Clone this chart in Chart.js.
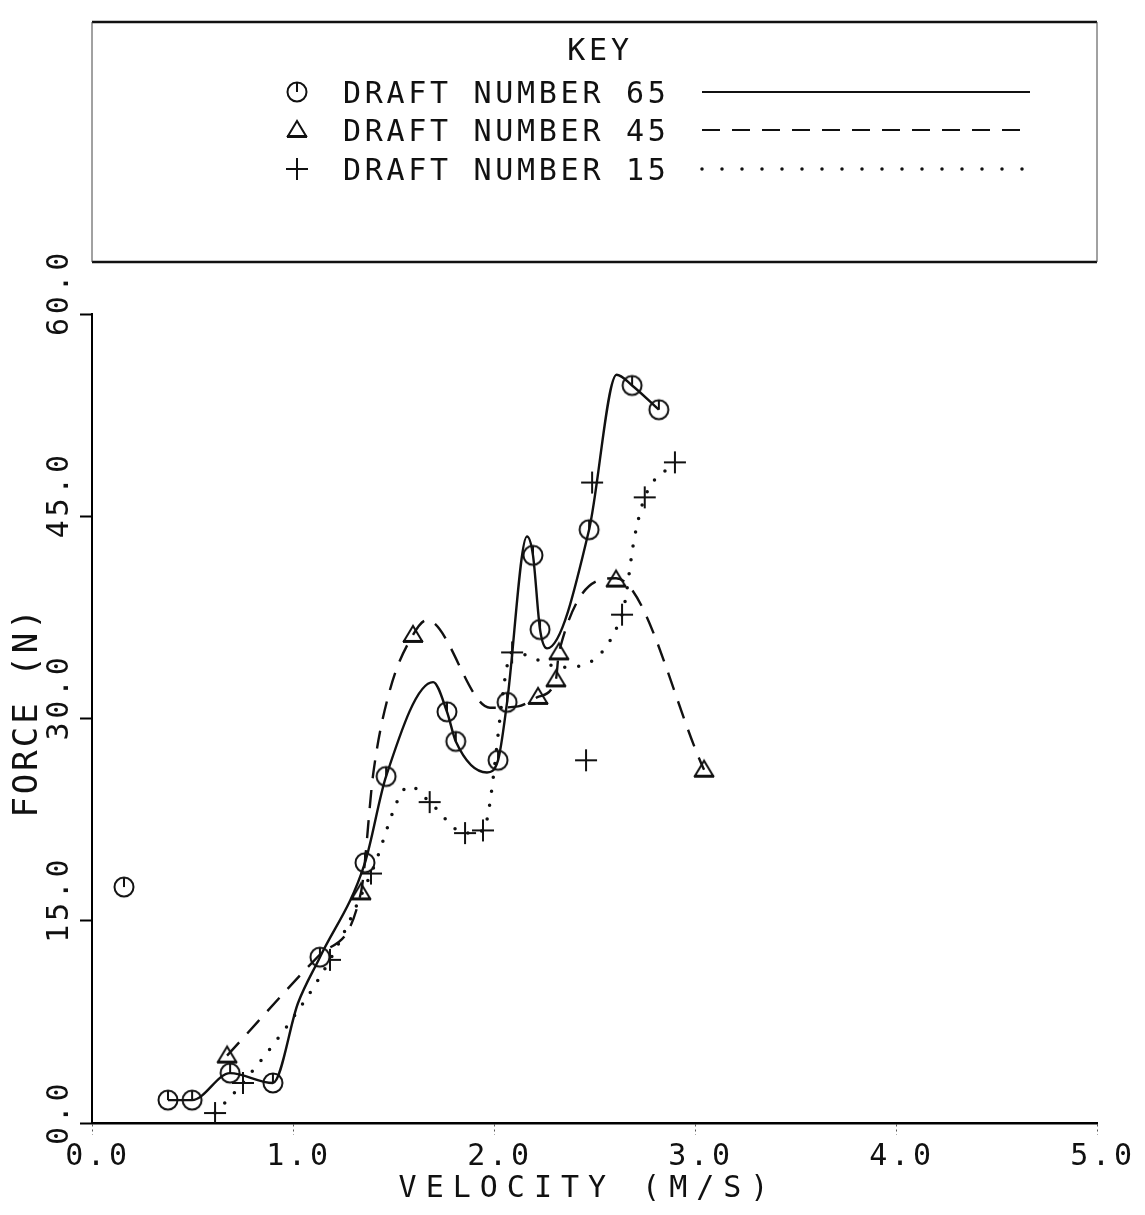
<!DOCTYPE html>
<html>
<head>
<meta charset="utf-8">
<title>Force vs velocity</title>
<script src="https://cdn.jsdelivr.net/npm/chart.js@4.4.1/dist/chart.umd.min.js"></script>
<style>
	html, body { margin: 0; padding: 0; background: #fff; }
	#wrap { position: relative; width: 1145px; height: 1215px; }
</style>
</head>
<body>
<div id="wrap"><canvas id="grafica"></canvas></div>
<script>
const xTicks = [0, 1, 2, 3, 4, 5];
const yTicks = [0, 15, 30, 45, 60];
const xTickLabels = ['0.0', '1.0', '2.0', '3.0', '4.0', '5.0'];
const yTickLabels = ['0.0', '15.0', '30.0', '45.0', '60.0'];
const seriesNames = ['DRAFT NUMBER 65', 'DRAFT NUMBER 45', 'DRAFT NUMBER 15'];

// measured points (markers)
const v65 = [0.159, 0.378, 0.498, 0.687, 0.90, 1.134, 1.358, 1.463, 1.766, 1.81, 2.02, 2.065, 2.194, 2.229, 2.473, 2.687, 2.82];
const f65 = [17.5, 1.7, 1.7, 3.7, 2.97, 12.3, 19.3, 25.7, 30.5, 28.3, 26.9, 31.2, 42.1, 36.6, 44.0, 54.7, 52.9];
const v45 = [0.672, 1.338, 1.597, 2.219, 2.308, 2.323, 2.607, 3.045];
const f45 = [5.0, 17.1, 36.2, 31.6, 32.9, 34.9, 40.3, 26.2];
const v15 = [0.612, 0.751, 1.184, 1.388, 1.68, 1.856, 1.945, 2.09, 2.458, 2.488, 2.637, 2.75, 2.9];
const f15 = [0.74, 2.97, 12.1, 18.5, 23.8, 21.5, 21.7, 34.9, 26.9, 47.5, 37.7, 46.4, 49.0];

// knots of the smooth plotter curves
const cv65 = [0.378, 0.498, 0.687, 0.90, 1.025, 1.134, 1.358, 1.463, 1.697, 1.766, 1.81, 1.965, 2.02, 2.065, 2.164, 2.194, 2.229, 2.264, 2.473, 2.61, 2.687, 2.82];
const cf65 = [1.7, 1.7, 3.7, 2.97, 8.9, 12.3, 19.3, 25.7, 32.7, 30.5, 28.3, 26.0, 26.9, 31.2, 43.5, 42.1, 36.6, 35.2, 44.0, 55.5, 54.7, 52.9];
const cv45 = [0.672, 1.134, 1.338, 1.40, 1.48, 1.597, 1.667, 1.98, 2.12, 2.219, 2.308, 2.323, 2.607, 3.045];
const cf45 = [5.0, 12.5, 17.1, 26.0, 32.0, 36.2, 37.3, 30.8, 30.9, 31.6, 32.9, 34.9, 40.4, 26.2];
const cv15 = [0.612, 0.751, 1.184, 1.388, 1.58, 1.68, 1.856, 1.945, 2.09, 2.343, 2.637, 2.70, 2.75, 2.9];
const cf15 = [0.74, 2.97, 12.1, 18.5, 25.0, 23.8, 21.5, 21.7, 34.9, 33.8, 37.7, 43.5, 46.4, 49.0];

const FONT = '"DejaVu Sans Mono", "Liberation Mono", monospace';
const TINTA = '#111';

const pts = (xs, ys) => xs.map((x, i) => ({ x: x, y: ys[i] }));

function marcador(tipo) {
	const c = document.createElement('canvas');
	c.width = 28;
	c.height = 28;
	const g = c.getContext('2d');
	g.strokeStyle = TINTA;
	g.fillStyle = TINTA;
	g.lineWidth = 2;
	if (tipo === 'circulo') {
		g.fillStyle = '#fff';
		g.beginPath();
		g.arc(14, 14, 9.5, 0, Math.PI * 2);
		g.fill();
		g.stroke();
		g.beginPath();
		g.moveTo(14, 4.5);
		g.lineTo(14, 14);
		g.stroke();
	} else if (tipo === 'triangulo') {
		g.beginPath();
		g.moveTo(14, 5);
		g.lineTo(5, 20);
		g.lineTo(23, 20);
		g.closePath();
		g.stroke();
		g.fillRect(4, 19, 20, 3);
	} else {
		g.beginPath();
		g.moveTo(3, 14);
		g.lineTo(25, 14);
		g.moveTo(14, 3);
		g.lineTo(14, 25);
		g.stroke();
	}
	return c;
}

const simbolos = [marcador('circulo'), marcador('triangulo'), marcador('cruz')];
const trazos = [[], [18, 12], [0, 14]];

function texto(ctx, str, x, y, size, spacing, align) {
	ctx.font = size + 'px ' + FONT;
	ctx.letterSpacing = spacing + 'px';
	ctx.textAlign = align || 'left';
	ctx.fillText(str, x, y);
}

const rotulos = {
	id: 'rotulos',
	afterDraw(chart) {
		const ctx = chart.ctx;
		const x = chart.scales.x;
		const y = chart.scales.y;
		ctx.save();
		ctx.fillStyle = TINTA;
		ctx.strokeStyle = TINTA;

		// tick labels
		ctx.textBaseline = 'alphabetic';
		xTicks.forEach((v, i) => {
			texto(ctx, xTickLabels[i], x.getPixelForValue(v) + 6, 1165, 30, 3.7, 'center');
		});
		yTicks.forEach((v, i) => {
			ctx.save();
			ctx.translate(60, y.getPixelForValue(v) + 22);
			ctx.rotate(-Math.PI / 2);
			ctx.textBaseline = 'middle';
			texto(ctx, yTickLabels[i], 0, 0, 30, 3.7, 'left');
			ctx.restore();
		});

		// axis titles
		texto(ctx, 'VELOCITY (M/S)', 588, 1197, 30, 9, 'center');
		ctx.save();
		ctx.translate(28, 712);
		ctx.rotate(-Math.PI / 2);
		ctx.textBaseline = 'middle';
		texto(ctx, 'FORCE (N)', 0, 0, 34, 3, 'center');
		ctx.restore();

		// key box
		ctx.lineWidth = 2.5;
		ctx.beginPath();
		ctx.moveTo(92, 22);
		ctx.lineTo(1097, 22);
		ctx.moveTo(92, 262);
		ctx.lineTo(1097, 262);
		ctx.stroke();
		ctx.lineWidth = 1;
		ctx.strokeStyle = '#444';
		ctx.beginPath();
		ctx.moveTo(92, 22);
		ctx.lineTo(92, 262);
		ctx.moveTo(1097, 22);
		ctx.lineTo(1097, 262);
		ctx.stroke();
		ctx.strokeStyle = TINTA;

		ctx.textBaseline = 'alphabetic';
		texto(ctx, 'KEY', 600, 60, 30, 3.7, 'center');
		const filas = [92, 130, 169];
		seriesNames.forEach((nombre, i) => {
			const fy = filas[i];
			ctx.drawImage(simbolos[i], 297 - 14, fy - 14);
			texto(ctx, nombre, 343, fy + 11, 30, 3.7, 'left');
			ctx.save();
			ctx.lineWidth = i === 2 ? 3.5 : 2;
			ctx.lineCap = i === 2 ? 'round' : 'butt';
			ctx.setLineDash(i === 2 ? [0, 20] : trazos[i]);
			ctx.beginPath();
			ctx.moveTo(702, fy);
			ctx.lineTo(1030, fy);
			ctx.stroke();
			ctx.restore();
		});
		ctx.restore();
	},
};

function curva(xs, ys, i) {
	return {
		data: pts(xs, ys),
		showLine: true,
		pointRadius: 0,
		borderColor: TINTA,
		borderWidth: i === 2 ? 3.5 : 2.4,
		borderDash: trazos[i],
		borderCapStyle: i === 2 ? 'round' : 'butt',
		cubicInterpolationMode: 'monotone',
		fill: false,
	};
}

function marcas(xs, ys, i) {
	return {
		data: pts(xs, ys),
		showLine: false,
		pointStyle: simbolos[i],
		pointRadius: 10,
	};
}

const ctx = document.querySelector('#grafica');
const chart = new Chart(ctx, {
	type: 'scatter',
	data: {
		datasets: [
			curva(cv65, cf65, 0),
			curva(cv45, cf45, 1),
			curva(cv15, cf15, 2),
			marcas(v65, f65, 0),
			marcas(v45, f45, 1),
			marcas(v15, f15, 2),
		],
	},
	options: {
		responsive: true,
		maintainAspectRatio: false,
		animation: false,
		events: [],
		layout: { padding: { left: 0, top: 314, right: 48, bottom: 0 } },
		plugins: {
			legend: { display: false },
			tooltip: { enabled: false },
		},
		scales: {
			x: {
				type: 'linear',
				min: 0,
				max: 5,
				afterBuildTicks: (scale) => {
					scale.ticks = xTicks.map((v) => ({ value: v }));
				},
				afterFit: (scale) => {
					scale.height = 92;
				},
				ticks: { display: false },
				grid: {
					drawOnChartArea: false,
					drawTicks: true,
					tickLength: 12,
					tickColor: '#555',
					tickWidth: 1,
					tickBorderDash: [2, 3],
				},
				border: { color: '#000', width: 2.5 },
			},
			y: {
				type: 'linear',
				min: 0,
				max: 60,
				afterBuildTicks: (scale) => {
					scale.ticks = yTicks.map((v) => ({ value: v }));
				},
				afterFit: (scale) => {
					scale.width = 92;
				},
				ticks: { display: false },
				grid: {
					drawOnChartArea: false,
					drawTicks: true,
					tickLength: 12,
					tickColor: '#000',
					tickWidth: 2,
				},
				border: { color: '#000', width: 2 },
			},
		},
	},
	plugins: [rotulos],
});
</script>
</body>
</html>
